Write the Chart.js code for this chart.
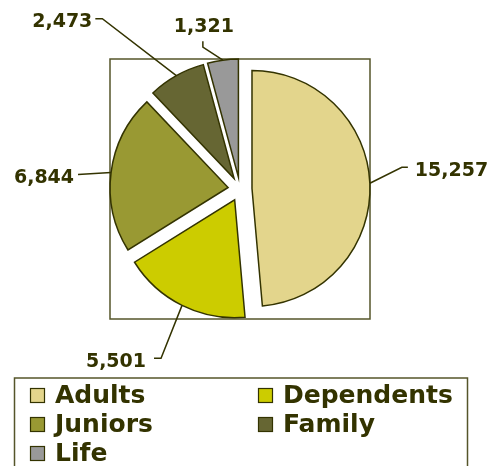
<!DOCTYPE html>
<html>
<head>
<meta charset="utf-8">
<script src="https://cdn.jsdelivr.net/npm/chart.js@4"></script>
<style>
  html, body { margin: 0; padding: 0; background: #FFFFFF; }
  #wrap { width: 493px; height: 466px; position: relative; }
</style>
</head>
<body>
<div id="wrap"><canvas id="membership-pie"></canvas></div>
<script>
"use strict";

// chart data
const categories = ['Adults', 'Dependents', 'Juniors', 'Family', 'Life'];
const memberCounts = [15257, 5501, 6844, 2473, 1321];
const valueLabels = ['15,257', '5,501', '6,844', '2,473', '1,321'];

const sliceColors = ['#E3D58C', '#CCCC00', '#999933', '#666633', '#999999'];
const inkColor = '#333300';
const frameColor = '#55552A';
const explode = 12; // px each slice is pulled out

// leader line layout per label: elbow / end offsets from the arc anchor, text side
const labelLayout = [
    {elbow: [32, -16], end: [38, -16], text: [45, -7], align: 'left'},
    {elbow: [-21, 53], end: [-28, 53], text: [-36, 62], align: 'right'},
    {elbow: [-33, 2], end: [-33, 2], text: [-37, 10], align: 'right'},
    {elbow: [-74, -57], end: [-81, -57], text: [-84, -49], align: 'right'},
    {elbow: [-20, -13], end: [-20, -19], text: [-19, -28], align: 'center'}
];

// pull every slice out by the same distance along its mid angle
const explodePlugin = {
    id: 'explode',
    afterDatasetUpdate(chart, args) {
        args.meta.data.forEach(arc => {
            const mid = (arc.startAngle + arc.endAngle) / 2;
            arc.x += Math.cos(mid) * explode;
            arc.y += Math.sin(mid) * explode;
        });
    }
};

const framePlugin = {
    id: 'frame',
    beforeDatasetsDraw(chart) {
        const ctx = chart.ctx;
        const area = chart.chartArea;
        const cx = (area.left + area.right) / 2;
        const cy = (area.top + area.bottom) / 2;
        const half = 130;
        ctx.save();
        ctx.strokeStyle = frameColor;
        ctx.lineWidth = 1.5;
        ctx.strokeRect(cx - half, cy - half, half * 2, half * 2);
        ctx.restore();
    }
};

const labelPlugin = {
    id: 'leaderLabels',
    afterDatasetsDraw(chart) {
        const ctx = chart.ctx;
        const meta = chart.getDatasetMeta(0);
        ctx.save();
        ctx.strokeStyle = inkColor;
        ctx.lineWidth = 1.5;
        ctx.fillStyle = inkColor;
        ctx.font = 'bold 19px "DejaVu Sans", Verdana, sans-serif';
        ctx.textBaseline = 'alphabetic';
        meta.data.forEach((arc, i) => {
            const mid = (arc.startAngle + arc.endAngle) / 2;
            const ax = arc.x + Math.cos(mid) * arc.outerRadius;
            const ay = arc.y + Math.sin(mid) * arc.outerRadius;
            const lay = labelLayout[i];
            ctx.beginPath();
            ctx.moveTo(ax, ay);
            ctx.lineTo(ax + lay.elbow[0], ay + lay.elbow[1]);
            ctx.lineTo(ax + lay.end[0], ay + lay.end[1]);
            ctx.stroke();
            ctx.textAlign = lay.align;
            ctx.fillText(valueLabels[i], ax + lay.text[0], ay + lay.text[1]);
        });
        ctx.restore();
    }
};

const legendPlugin = {
    id: 'boxLegend',
    afterDraw(chart) {
        const ctx = chart.ctx;
        ctx.save();
        ctx.strokeStyle = frameColor;
        ctx.lineWidth = 1.5;
        ctx.strokeRect(14.5, 378, 453, 100);

        ctx.font = 'bold 25px "DejaVu Sans", Verdana, sans-serif';
        ctx.textAlign = 'left';
        ctx.textBaseline = 'alphabetic';
        const colX = [30, 258];
        const rowY = [403, 432, 461];
        categories.forEach((name, i) => {
            const x = colX[i % 2];
            const y = rowY[Math.floor(i / 2)];
            ctx.fillStyle = sliceColors[i];
            ctx.fillRect(x, y - 15, 15, 15);
            ctx.strokeStyle = inkColor;
            ctx.lineWidth = 1.2;
            ctx.strokeRect(x + 0.5, y - 14.5, 14, 14);
            ctx.fillStyle = inkColor;
            ctx.fillText(name, x + 25, y);
        });
        ctx.restore();
    }
};

const canvas = document.getElementById('membership-pie');
canvas.width = 493;
canvas.height = 466;

new Chart(canvas.getContext('2d'), {
    type: 'pie',
    data: {
        labels: categories,
        datasets: [{
            data: memberCounts,
            backgroundColor: sliceColors,
            borderColor: inkColor,
            borderWidth: 1.5,
            borderJoinStyle: 'miter'
        }]
    },
    options: {
        responsive: false,
        animation: false,
        radius: 118,
        layout: {
            padding: {left: 0, right: 13, top: 0, bottom: 88}
        },
        plugins: {
            legend: {display: false},
            tooltip: {enabled: false}
        },
        events: []
    },
    plugins: [explodePlugin, framePlugin, labelPlugin, legendPlugin]
});
</script>
</body>
</html>
